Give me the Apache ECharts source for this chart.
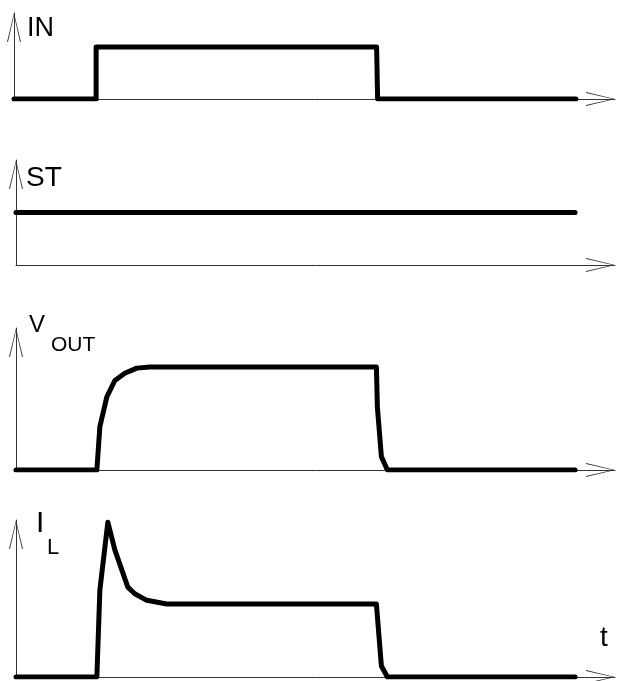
<!DOCTYPE html>
<html><head><meta charset="utf-8">
<script src="https://cdn.jsdelivr.net/npm/echarts@6/dist/echarts.min.js"></script>
<style>html,body{margin:0;padding:0;background:#fff}#c{width:618px;height:681px}</style>
</head><body><div id="c"></div>
<script>
// time units (arbitrary) and normalized signal levels
const inT = [0, 8.2, 8.2, 36.2, 36.3, 56.1];
const inV = [0, 0, 1, 1, 0, 0];
const stT = [0, 56.0];
const stV = [1, 1];
const voutT = [0, 8.1, 8.4, 9.1, 9.9, 10.9, 12.1, 13.4, 36.1, 36.2, 36.6, 37.2, 56.0];
const voutV = [0, 0, 0.42, 0.71, 0.87, 0.94, 0.99, 1, 1, 0.61, 0.13, 0, 0];
const ilT = [0, 8.1, 8.4, 9.2, 9.9, 11.2, 11.9, 13.1, 15.1, 36.1, 36.6, 37.2, 56.0];
const ilV = [0, 0, 1.19, 2.12, 1.74, 1.23, 1.14, 1.05, 1, 1, 0.15, 0, 0];
const labels = ['IN', 'ST', 'V', 'OUT', 'I', 'L', 't'];

const chart = echarts.init(document.getElementById('c'), null, {renderer: 'canvas'});
const arrow = 'path://M7,0 L14,29 L13,29 L7,2.5 L1,29 L0,29 Z';
const grids = [
  {left: 14, right: 3, top: 13, bottom: 582},
  {left: 16, right: 3, top: 160, bottom: 416},
  {left: 16, right: 3, top: 328, bottom: 211},
  {left: 16, right: 3, top: 520, bottom: 4}
];
const yMax = [1.65, 2.0, 1.38, 2.15];
const axisLine = {
  show: true, onZero: true,
  symbol: ['none', arrow], symbolSize: [14, 29], symbolOffset: [0, -14.5],
  lineStyle: {color: '#333', width: 1}
};
const xAxis = grids.map((g, i) => ({
  type: 'value', gridIndex: i, min: 0, max: 60,
  axisLine: axisLine, axisTick: {show: false}, axisLabel: {show: false}, splitLine: {show: false}
}));
const yAxis = grids.map((g, i) => ({
  type: 'value', gridIndex: i, min: 0, max: yMax[i],
  axisLine: axisLine, axisTick: {show: false}, axisLabel: {show: false}, splitLine: {show: false}
}));
const mk = (T, V, i) => ({
  type: 'line', xAxisIndex: i, yAxisIndex: i, showSymbol: false, silent: true, animation: false,
  data: T.map((t, k) => [t, V[k]]),
  lineStyle: {color: '#000', width: 5, cap: 'round', join: 'round'}
});
const font = 'Liberation Sans, Arial, sans-serif';
const tpos = [
  {left: 27, top: 15, fs: 27},
  {left: 26, top: 164, fs: 28},
  {left: 29, top: 313, fs: 24},
  {left: 51, top: 335, fs: 21},
  {left: 36, top: 509, fs: 30},
  {left: 47, top: 537, fs: 22},
  {left: 600, top: 624, fs: 28}
];
chart.setOption({
  animation: false,
  grid: grids,
  xAxis: xAxis,
  yAxis: yAxis,
  title: labels.map((s, i) => ({
    text: s, left: tpos[i].left, top: tpos[i].top, padding: 0,
    textStyle: {fontFamily: font, fontWeight: 'normal', fontSize: tpos[i].fs, color: '#000'}
  })),
  series: [mk(inT, inV, 0), mk(stT, stV, 1), mk(voutT, voutV, 2), mk(ilT, ilV, 3)]
});
</script></body></html>
